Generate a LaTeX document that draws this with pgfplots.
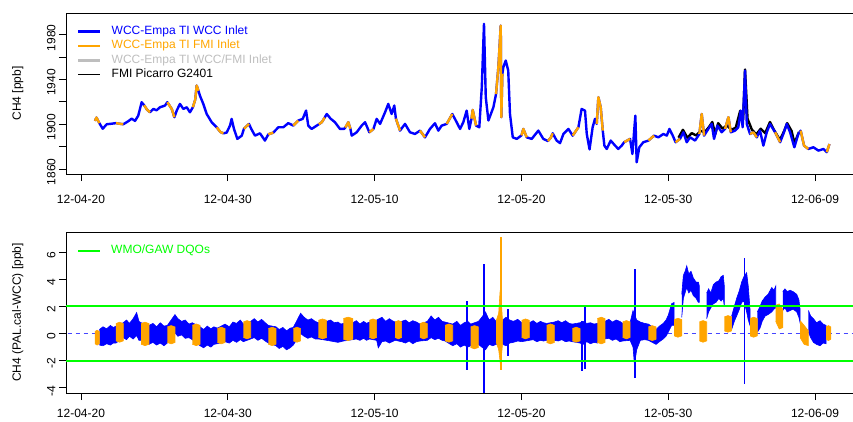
\documentclass[border=0pt]{standalone}
\usepackage{fontspec}
\setmainfont{Liberation Sans}
\usepackage{pgfplots}
\pgfplotsset{compat=1.18}
\usepackage{pgfplotstable}
\definecolor{Rorange}{RGB}{255,165,0}
\definecolor{Rgray}{RGB}{190,190,190}
\definecolor{Rgreen}{RGB}{0,255,0}
\definecolor{Rblue}{RGB}{0,0,255}
\definecolor{Rdash}{RGB}{70,70,255}

% top panel: CH4, days since 2012-04-20; o = value when on FMI inlet
\pgfplotstableread[row sep=\\]{
d v o\\
0.95 1903 1903\\
1.05 1906 1906\\
1.25 1901 1901\\
1.48 1896 nan\\
1.75 1900 nan\\
2.10 1900.5 nan\\
2.38 1901 1901\\
2.60 1900.5 1900.5\\
2.88 1900 1900\\
3.22 1902.7 nan\\
3.45 1905 nan\\
3.68 1903 nan\\
3.90 1907.7 nan\\
4.13 1919.7 nan\\
4.30 1917 1917\\
4.50 1913 1913\\
4.70 1910.7 1910.7\\
4.93 1913.7 nan\\
5.15 1912.5 nan\\
5.38 1915.2 nan\\
5.72 1916.7 nan\\
5.88 1919.7 1919.7\\
6.18 1913.7 1913.7\\
6.36 1906.3 1906.3\\
6.52 1912.2 nan\\
6.74 1918.2 nan\\
6.97 1913.7 nan\\
7.20 1915.2 nan\\
7.42 1910.7 nan\\
7.62 1915.2 1915.2\\
7.78 1922 1922\\
7.88 1934.6 1934.6\\
8.00 1930 1930\\
8.10 1925.6 nan\\
8.33 1918.2 nan\\
8.56 1909.2 nan\\
8.90 1901.8 nan\\
9.24 1897.3 1897.3\\
9.50 1893 1893\\
9.70 1891.9 1891.9\\
9.92 1892.5 nan\\
10.15 1898.8 nan\\
10.26 1904.8 nan\\
10.42 1895.8 nan\\
10.65 1886.9 nan\\
10.95 1889.8 nan\\
11.10 1896 1896\\
11.44 1900.3 1900.3\\
11.60 1895.8 nan\\
11.85 1889.8 nan\\
12.19 1891.9 nan\\
12.53 1885.4 nan\\
12.76 1891 1891\\
13.10 1892.5 1892.5\\
13.44 1897.3 nan\\
13.78 1897.3 nan\\
14.12 1901 nan\\
14.46 1898.8 1898.8\\
14.80 1903.3 1903.3\\
15.10 1904.8 nan\\
15.33 1912.2 nan\\
15.48 1898.8 nan\\
15.71 1895.8 nan\\
16.06 1898.8 nan\\
16.20 1900 1900\\
16.40 1901.8 1901.8\\
16.60 1906 1906\\
16.74 1909.2 nan\\
17.00 1905 nan\\
17.30 1901.8 nan\\
17.64 1895.8 nan\\
17.92 1895.8 nan\\
18.00 1897 1897\\
18.21 1901.8 1901.8\\
18.35 1896 1896\\
18.44 1889.8 nan\\
18.78 1892.8 nan\\
19.12 1898.8 nan\\
19.35 1901.8 nan\\
19.64 1892.8 1892.8\\
19.92 1895.8 1895.8\\
20.14 1904.8 nan\\
20.37 1900.3 nan\\
20.71 1910.7 nan\\
20.93 1918.2 nan\\
21.16 1909.2 nan\\
21.34 1916.7 nan\\
21.45 1905 1905\\
21.73 1894.3 1894.3\\
22.07 1900.3 nan\\
22.41 1892.8 nan\\
22.75 1891.3 nan\\
23.09 1894.3 1894.3\\
23.43 1888.3 1888.3\\
23.77 1895.8 nan\\
24.11 1900.9 nan\\
24.34 1894.3 nan\\
24.57 1898.8 nan\\
24.91 1900.3 1900.3\\
25.29 1909.2 1909.2\\
25.59 1901.8 nan\\
25.82 1895.8 nan\\
26.04 1901.8 nan\\
26.27 1912.2 nan\\
26.45 1895.8 nan\\
26.60 1905 1905\\
26.68 1912.8 1912.8\\
26.91 1898.8 1898.8\\
27.13 1897.3 nan\\
27.30 1933.2 nan\\
27.45 1989.9 nan\\
27.57 1924.2 nan\\
27.75 1903.3 nan\\
28.09 1915.2 nan\\
28.27 1927 1927\\
28.43 1951.1 1951.1\\
28.59 1988.3 1988.3\\
28.63 1906.3 1906.3\\
28.70 1945 1945\\
28.77 1951.1 nan\\
28.93 1957 nan\\
29.10 1948.1 nan\\
29.22 1909.2 nan\\
29.41 1888.3 nan\\
29.68 1886.9 nan\\
30.00 1890 1890\\
30.13 1895.8 1895.8\\
30.36 1888.3 1888.3\\
30.70 1886.9 nan\\
31.15 1894.3 nan\\
31.49 1886.9 nan\\
31.80 1885 1885\\
32.00 1888 1888\\
32.13 1891.9 1891.9\\
32.40 1885.4 nan\\
32.63 1883.1 nan\\
32.86 1891.3 nan\\
33.20 1895.8 nan\\
33.49 1889.8 1889.8\\
33.88 1897.3 1897.3\\
34.10 1913.7 nan\\
34.33 1912.2 nan\\
34.45 1891.3 nan\\
34.64 1877.5 nan\\
34.85 1897.3 nan\\
35.01 1904.8 nan\\
35.13 1900.3 1900.3\\
35.24 1924.2 1924.2\\
35.40 1915.2 1915.2\\
35.54 1894.3 1894.3\\
35.65 1880.9 nan\\
35.81 1877.9 nan\\
36.08 1885.4 nan\\
36.38 1880.9 nan\\
36.60 1877.9 nan\\
36.83 1880.9 nan\\
37.00 1884 1884\\
37.20 1885.4 1885.4\\
37.40 1886.9 1886.9\\
37.56 1873.4 nan\\
37.67 1892.8 nan\\
37.76 1907.7 nan\\
37.85 1866 nan\\
38.03 1879.4 nan\\
38.30 1883.9 nan\\
38.65 1885.4 1885.4\\
39.03 1889.8 1889.8\\
39.33 1888.3 nan\\
39.67 1891.3 nan\\
39.90 1889.8 nan\\
40.08 1895.8 nan\\
40.31 1889.8 nan\\
40.50 1883.9 1883.9\\
40.80 1886.9 1886.9\\
41.03 1892.8 nan\\
41.26 1883.9 nan\\
41.49 1888.3 nan\\
41.83 1885.4 nan\\
42.12 1891.3 1891.3\\
42.28 1909.2 1909.2\\
42.44 1889.8 1889.8\\
42.73 1895.8 nan\\
42.96 1900.3 nan\\
43.12 1886.9 nan\\
43.35 1898.8 nan\\
43.64 1892.8 nan\\
43.87 1895.8 1895.8\\
44.10 1906.3 1906.3\\
44.26 1892.8 1892.8\\
44.55 1894.3 nan\\
44.77 1897.3 nan\\
44.94 1912.2 nan\\
45.07 1897.3 nan\\
45.23 1948 nan\\
45.35 1900.3 nan\\
45.57 1891.3 1891.3\\
45.80 1892.8 1892.8\\
46.03 1888.3 1888.3\\
46.25 1894.3 nan\\
46.48 1880.9 nan\\
46.71 1892.8 nan\\
46.93 1900.3 nan\\
47.28 1892.8 1892.8\\
47.62 1883.9 1883.9\\
47.84 1891.3 nan\\
48.07 1900.3 nan\\
48.30 1892.8 nan\\
48.59 1879.4 nan\\
48.86 1891.3 nan\\
49.02 1894.3 1894.3\\
49.25 1880.9 1880.9\\
49.54 1877.9 1877.9\\
49.89 1879.4 nan\\
50.23 1876.4 nan\\
50.57 1877.9 nan\\
50.80 1875 1875\\
50.98 1882.3 1882.3\\
}\topdata

% FMI Picarro (visible where it differs from the blue series)
\pgfplotstableread[row sep=\\]{
d v\\
40.70 1888\\
41.00 1895\\
41.30 1888\\
41.60 1892\\
41.90 1890\\
42.20 1894\\
42.50 1893\\
42.80 1898\\
43.00 1902\\
43.20 1891\\
43.40 1901\\
43.70 1896\\
44.00 1899\\
44.30 1895\\
44.60 1897\\
44.90 1912\\
45.10 1904\\
45.23 1949\\
45.40 1905\\
45.70 1895\\
46.00 1891\\
46.30 1896\\
46.60 1892\\
46.93 1902\\
47.20 1895\\
47.60 1886\\
47.90 1894\\
48.10 1901\\
48.40 1894\\
48.60 1883\\
48.90 1893\\
}\blackdata

% bottom panel: WCC inlet band (upper edge forward, lower edge back), nan separates pieces
\pgfplotstableread[row sep=\\]{
d v\\
1.25 0.30\\ 1.5 0.5\\ 1.75 0.35\\ 2.0 0.6\\ 2.2 0.45\\ 2.38 0.55\\
2.88 0.8\\ 3.1 1.0\\ 3.3 0.75\\ 3.55 1.1\\ 3.79 1.55\\ 3.95 0.9\\ 4.09 0.8\\
4.63 0.6\\ 4.9 0.75\\ 5.15 0.5\\ 5.4 0.8\\ 5.65 0.55\\ 5.88 0.6\\
6.4 1.4\\ 6.6 1.1\\ 6.85 0.9\\ 7.1 1.0\\ 7.35 0.7\\ 7.58 0.8\\
8.11 0.5\\ 8.35 0.3\\ 8.6 0.55\\ 8.85 0.35\\ 9.05 0.5\\ 9.29 0.4\\
9.81 0.7\\ 10.1 0.5\\ 10.35 0.85\\ 10.6 0.75\\ 10.85 1.0\\ 11.06 0.7\\
11.56 0.9\\ 11.8 1.1\\ 12.05 0.85\\ 12.3 1.05\\ 12.55 0.8\\ 12.76 0.6\\
13.28 0.5\\ 13.5 0.3\\ 13.75 0.45\\ 14.0 0.2\\ 14.25 0.4\\ 14.46 0.45\\
14.96 1.5\\ 15.2 1.2\\ 15.45 1.0\\ 15.7 1.1\\ 15.95 0.9\\ 16.17 0.8\\
16.73 0.9\\ 17.0 1.0\\ 17.25 0.8\\ 17.5 0.85\\ 17.7 0.7\\ 17.87 0.75\\
18.51 0.8\\ 18.75 0.95\\ 19.0 0.7\\ 19.25 0.9\\ 19.45 0.75\\ 19.64 0.85\\
20.14 1.0\\ 20.5 1.2\\ 20.75 0.9\\ 21.0 1.1\\ 21.2 0.95\\ 21.39 0.85\\
21.84 0.9\\ 22.1 1.0\\ 22.35 0.8\\ 22.6 0.95\\ 22.85 0.85\\ 23.09 0.7\\
23.59 0.9\\ 23.85 1.3\\ 24.1 1.0\\ 24.35 1.2\\ 24.6 0.9\\ 24.8 0.85\\
25.32 0.7\\ 25.6 0.9\\ 25.85 0.6\\ 26.1 0.8\\ 26.35 0.9\\ 26.54 0.7\\
27.07 0.9\\ 27.3 1.2\\ 27.55 1.6\\ 27.8 1.0\\ 28.05 1.2\\ 28.27 0.9\\
28.72 1.0\\ 28.95 1.2\\ 29.2 1.0\\ 29.45 0.9\\ 29.75 1.05\\ 30.02 0.8\\
30.54 0.8\\ 30.8 0.95\\ 31.05 0.75\\ 31.3 0.9\\ 31.5 0.8\\ 31.72 0.75\\
32.24 0.85\\ 32.5 0.95\\ 32.75 0.8\\ 33.0 0.95\\ 33.25 0.75\\ 33.47 0.7\\
33.99 0.8\\ 34.2 0.9\\ 34.45 0.75\\ 34.7 0.8\\ 34.95 0.7\\ 35.17 0.75\\
35.69 0.9\\ 35.95 1.05\\ 36.2 0.85\\ 36.45 1.0\\ 36.7 0.9\\ 36.9 0.75\\
37.4 0.8\\ 37.6 1.7\\ 37.85 1.0\\ 38.1 0.85\\ 38.4 0.75\\ 38.65 0.7\\
39.17 0.3\\ 39.4 0.55\\ 39.66 0.75\\ 39.85 1.0\\ 40.0 1.35\\ 40.23 2.2\\ 40.40 2.3\\
40.40 0.6\\ 40.23 0.6\\ 40.0 0.1\\ 39.85 -0.2\\ 39.66 -0.4\\ 39.4 -0.6\\ 39.17 -0.8\\
38.65 -0.5\\ 38.4 -0.45\\ 38.1 -0.5\\ 37.85 -1.2\\ 37.7 -2.3\\ 37.6 -1.0\\ 37.4 -0.5\\
36.9 -0.55\\ 36.7 -0.6\\ 36.45 -0.4\\ 36.2 -0.5\\ 35.95 -0.35\\ 35.69 -0.4\\
35.17 -0.7\\ 34.95 -0.65\\ 34.7 -0.75\\ 34.45 -0.6\\ 34.2 -0.8\\ 33.99 -0.7\\
33.47 -0.6\\ 33.25 -0.55\\ 33.0 -0.6\\ 32.75 -0.45\\ 32.5 -0.55\\ 32.24 -0.5\\
31.72 -0.5\\ 31.5 -0.55\\ 31.3 -0.5\\ 31.05 -0.6\\ 30.8 -0.45\\ 30.54 -0.5\\
30.02 -0.6\\ 29.75 -0.55\\ 29.45 -0.65\\ 29.2 -0.7\\ 28.95 -0.9\\ 28.72 -0.8\\
28.27 -0.8\\ 28.05 -0.9\\ 27.8 -0.8\\ 27.55 -1.2\\ 27.3 -1.0\\ 27.07 -0.8\\
26.54 -0.9\\ 26.35 -1.0\\ 26.1 -0.85\\ 25.85 -1.0\\ 25.6 -0.75\\ 25.32 -0.9\\
24.8 -0.55\\ 24.6 -0.5\\ 24.35 -0.35\\ 24.1 -0.45\\ 23.85 -0.3\\ 23.59 -0.5\\
23.09 -0.55\\ 22.85 -0.6\\ 22.6 -0.75\\ 22.35 -0.55\\ 22.1 -0.7\\ 21.84 -0.6\\
21.39 -0.5\\ 21.2 -0.6\\ 21.0 -0.7\\ 20.75 -0.55\\ 20.5 -0.6\\ 20.25 -1.05\\ 20.14 -0.5\\
19.64 -0.4\\ 19.45 -0.5\\ 19.25 -0.35\\ 19.0 -0.5\\ 18.75 -0.4\\ 18.51 -0.45\\
17.87 -0.55\\ 17.7 -0.6\\ 17.5 -0.65\\ 17.25 -0.6\\ 17.0 -0.55\\ 16.73 -0.5\\
16.17 -0.4\\ 15.95 -0.4\\ 15.7 -0.25\\ 15.45 -0.35\\ 15.2 -0.2\\ 14.96 0.0\\
14.46 -0.85\\ 14.25 -1.05\\ 14.0 -1.2\\ 13.75 -0.95\\ 13.5 -1.1\\ 13.28 -0.9\\
12.76 -0.7\\ 12.55 -0.55\\ 12.3 -0.35\\ 12.05 -0.5\\ 11.8 -0.3\\ 11.56 -0.4\\
11.06 -0.6\\ 10.85 -0.45\\ 10.6 -0.65\\ 10.35 -0.5\\ 10.1 -0.7\\ 9.81 -0.6\\
9.29 -0.75\\ 9.05 -0.8\\ 8.85 -1.0\\ 8.6 -0.85\\ 8.35 -1.05\\ 8.11 -0.9\\
7.58 -0.45\\ 7.35 -0.3\\ 7.1 -0.35\\ 6.85 -0.1\\ 6.6 -0.2\\ 6.4 0.05\\
5.88 -0.7\\ 5.65 -0.9\\ 5.4 -0.7\\ 5.15 -0.85\\ 4.9 -0.65\\ 4.63 -0.8\\
4.09 -0.5\\ 3.95 -0.5\\ 3.79 -0.15\\ 3.55 -0.4\\ 3.3 -0.2\\ 3.1 -0.45\\ 2.88 -0.3\\
2.38 -0.7\\ 2.2 -0.7\\ 2.0 -0.85\\ 1.75 -0.75\\ 1.5 -0.9\\ 1.25 -0.85\\
nan nan\\
40.92 2.9\\ 41.03 4.3\\ 41.15 4.6\\ 41.26 5.0\\ 41.4 4.4\\ 41.55 4.6\\ 41.71 4.1\\ 41.9 3.8\\ 42.05 3.8\\ 42.12 3.5\\
42.12 2.3\\ 42.05 2.3\\ 41.9 2.6\\ 41.71 2.8\\ 41.55 3.2\\ 41.4 3.0\\ 41.26 3.4\\ 41.03 2.6\\ 40.92 1.2\\
nan nan\\
42.62 3.0\\ 42.75 3.3\\ 42.9 3.0\\ 43.07 3.6\\ 43.25 3.8\\ 43.45 3.9\\ 43.6 4.2\\ 43.75 4.3\\ 43.82 3.5\\
43.82 2.0\\ 43.75 2.6\\ 43.6 2.4\\ 43.45 2.6\\ 43.25 2.3\\ 43.07 2.2\\ 42.9 1.9\\ 42.75 1.6\\ 42.62 1.1\\
nan nan\\
44.32 1.3\\ 44.5 2.0\\ 44.66 2.6\\ 44.85 3.2\\ 45.0 3.8\\ 45.15 4.2\\ 45.34 4.5\\ 45.45 3.5\\ 45.57 1.8\\
45.57 0.6\\ 45.45 1.0\\ 45.34 1.6\\ 45.15 2.4\\ 45.0 2.3\\ 44.85 1.8\\ 44.66 1.3\\ 44.5 0.9\\ 44.32 0.3\\
nan nan\\
46.07 1.6\\ 46.25 2.0\\ 46.4 2.4\\ 46.6 2.7\\ 46.8 2.9\\ 47.05 3.4\\ 47.2 3.2\\ 47.32 3.5\\
47.32 1.9\\ 47.2 1.8\\ 47.05 1.6\\ 46.8 1.4\\ 46.6 1.3\\ 46.4 0.9\\ 46.25 0.4\\ 46.07 0.1\\
nan nan\\
47.8 3.1\\ 47.95 3.3\\ 48.1 3.1\\ 48.3 3.2\\ 48.5 3.1\\ 48.75 2.9\\ 48.9 2.5\\ 48.98 1.8\\
48.98 0.8\\ 48.9 1.2\\ 48.75 1.6\\ 48.5 1.8\\ 48.3 1.7\\ 48.1 1.6\\ 47.95 1.9\\ 47.8 1.7\\
nan nan\\
49.55 1.7\\ 49.7 1.3\\ 49.89 1.1\\ 50.1 0.8\\ 50.34 0.95\\ 50.55 0.7\\ 50.75 0.6\\
50.75 -0.75\\ 50.55 -0.7\\ 50.34 -0.9\\ 50.1 -0.8\\ 49.89 -0.65\\ 49.7 -0.3\\ 49.55 0.1\\
}\blueband

% bottom panel: FMI inlet blocks
\pgfplotstableread[row sep=\\]{
d v\\
0.95 0.15\\ 1.1 0.25\\ 1.25 0.15\\ 1.25 -0.75\\ 1.1 -0.85\\ 0.95 -0.75\\ nan nan\\
2.38 0.74\\ 2.63 0.84\\ 2.88 0.74\\ 2.88 -0.54\\ 2.63 -0.64\\ 2.38 -0.54\\ nan nan\\
4.09 0.74\\ 4.36 0.84\\ 4.63 0.74\\ 4.63 -0.79\\ 4.36 -0.89\\ 4.09 -0.79\\ nan nan\\
5.88 0.49\\ 6.14 0.59\\ 6.40 0.49\\ 6.40 -0.66\\ 6.14 -0.76\\ 5.88 -0.66\\ nan nan\\
7.58 0.61\\ 7.85 0.71\\ 8.11 0.61\\ 8.11 -0.79\\ 7.85 -0.89\\ 7.58 -0.79\\ nan nan\\
9.29 0.37\\ 9.55 0.47\\ 9.81 0.37\\ 9.81 -0.66\\ 9.55 -0.76\\ 9.29 -0.66\\ nan nan\\
11.06 0.86\\ 11.31 0.96\\ 11.56 0.86\\ 11.56 -0.29\\ 11.31 -0.39\\ 11.06 -0.29\\ nan nan\\
12.76 0.37\\ 13.02 0.47\\ 13.28 0.37\\ 13.28 -0.79\\ 13.02 -0.89\\ 12.76 -0.79\\ nan nan\\
14.46 0.37\\ 14.71 0.47\\ 14.96 0.37\\ 14.96 -0.54\\ 14.71 -0.64\\ 14.46 -0.54\\ nan nan\\
16.17 0.98\\ 16.45 1.08\\ 16.73 0.98\\ 16.73 -0.29\\ 16.45 -0.39\\ 16.17 -0.29\\ nan nan\\
17.87 1.11\\ 18.19 1.21\\ 18.51 1.11\\ 18.51 -0.42\\ 18.19 -0.52\\ 17.87 -0.42\\ nan nan\\
19.64 0.98\\ 19.89 1.08\\ 20.14 0.98\\ 20.14 -0.29\\ 19.89 -0.39\\ 19.64 -0.29\\ nan nan\\
21.39 0.86\\ 21.62 0.96\\ 21.84 0.86\\ 21.84 -0.29\\ 21.62 -0.39\\ 21.39 -0.29\\ nan nan\\
23.09 0.74\\ 23.34 0.84\\ 23.59 0.74\\ 23.59 -0.29\\ 23.34 -0.39\\ 23.09 -0.29\\ nan nan\\
24.8 0.61\\ 25.06 0.71\\ 25.32 0.61\\ 25.32 -0.54\\ 25.06 -0.64\\ 24.8 -0.54\\ nan nan\\
26.54 0.49\\ 26.8 0.59\\ 27.07 0.49\\ 27.07 -1.03\\ 26.8 -1.13\\ 26.54 -1.03\\ nan nan\\
28.27 0.9\\ 28.45 1.5\\ 28.55 3.2\\ 28.65 2.0\\ 28.72 0.8\\ 28.72 -0.7\\ 28.65 -1.5\\ 28.55 -2.1\\ 28.45 -1.2\\ 28.27 -0.6\\ nan nan\\
30.02 0.98\\ 30.28 1.08\\ 30.54 0.98\\ 30.54 -0.29\\ 30.28 -0.39\\ 30.02 -0.29\\ nan nan\\
31.72 0.61\\ 31.98 0.71\\ 32.24 0.61\\ 32.24 -0.66\\ 31.98 -0.76\\ 31.72 -0.66\\ nan nan\\
33.47 0.37\\ 33.73 0.47\\ 33.99 0.37\\ 33.99 -0.54\\ 33.73 -0.64\\ 33.47 -0.54\\ nan nan\\
35.17 1.11\\ 35.43 1.21\\ 35.69 1.11\\ 35.69 -0.66\\ 35.43 -0.76\\ 35.17 -0.66\\ nan nan\\
36.9 0.86\\ 37.15 0.96\\ 37.4 0.86\\ 37.4 -0.29\\ 37.15 -0.39\\ 36.9 -0.29\\ nan nan\\
38.65 0.49\\ 38.91 0.59\\ 39.17 0.49\\ 39.17 -0.42\\ 38.91 -0.52\\ 38.65 -0.42\\ nan nan\\
40.40 1.03\\ 40.66 1.13\\ 40.92 1.03\\ 40.92 -0.17\\ 40.66 -0.27\\ 40.40 -0.17\\ nan nan\\
42.12 0.86\\ 42.37 0.96\\ 42.62 0.86\\ 42.62 -0.54\\ 42.37 -0.64\\ 42.12 -0.54\\ nan nan\\
43.82 1.23\\ 44.07 1.33\\ 44.32 1.23\\ 44.32 0.2\\ 44.07 0.1\\ 43.82 0.2\\ nan nan\\
45.57 1.11\\ 45.82 1.21\\ 46.07 1.11\\ 46.07 -0.17\\ 45.82 -0.27\\ 45.57 -0.17\\ nan nan\\
47.32 2.09\\ 47.56 2.19\\ 47.8 1.8\\ 47.8 0.44\\ 47.56 0.34\\ 47.32 0.9\\ nan nan\\
48.98 0.96\\ 49.26 0.6\\ 49.55 0.2\\ 49.55 -0.89\\ 49.26 -0.8\\ 48.98 -0.3\\ nan nan\\
50.75 0.49\\ 50.91 0.59\\ 51.07 0.49\\ 51.07 -0.42\\ 50.91 -0.52\\ 50.75 -0.42\\
}\orangeband

% isolated spikes (vertical segments)
\pgfplotstableread[row sep=\\]{
d v\\
26.27 -2.66\\ 26.27 2.44\\ nan nan\\
27.43 -4.38\\ 27.43 5.15\\ nan nan\\
29.11 -1.63\\ 29.11 1.82\\ nan nan\\
34.10 -2.73\\ 34.10 0.90\\ nan nan\\
34.33 -2.61\\ 34.33 1.95\\ nan nan\\
37.76 -3.30\\ 37.76 4.78\\ nan nan\\
45.19 -3.72\\ 45.19 5.57\\
}\bluespikes

\pgfplotsset{Rax/.style={
  scale only axis, width=790pt, height=161pt,
  xmin=-1.022, xmax=52.79,
  axis line style={black, line width=0.8pt},
  tick align=outside, tick pos=left, major tick length=7pt,
  every tick/.style={black, line width=0.8pt},
  xtick={0,10,20,30,40,50},
  xticklabels={12-04-20,12-04-30,12-05-10,12-05-20,12-05-30,12-06-09},
  tick label style={font=\fontsize{12}{12}\selectfont},
  yticklabel style={rotate=90, anchor=south, xshift=-3pt},
  every axis y label/.style={at={(axis description cs:-0.061,0.5)}, rotate=90, anchor=center, font=\fontsize{12}{12}\selectfont},
  unbounded coords=jump,
  legend cell align=left,
  legend image code/.code={\draw[##1] (0pt,0pt) -- (22pt,0pt);},
  legend style={draw=none, fill=none, inner sep=0pt, row sep=0pt,
    at={(axis description cs:0.0139,0.93)}, anchor=north west,
    font=\fontsize{12}{12}\selectfont,
    nodes={inner sep=1pt, text height=9pt, text depth=3.4pt},
    /tikz/every odd column/.append style={column sep=9pt}},
}}

\begin{document}
\begin{tikzpicture}
\useasboundingbox (0pt,0pt) rectangle (853pt,421pt);

\begin{axis}[Rax, at={(66pt,247pt)}, anchor=south west,
  xticklabel style={yshift=-11pt},
  ymin=1855.5, ymax=1999.5,
  ytick={1860,1880,1900,1920,1940,1960,1980},
  yticklabels={1860,,1900,,1940,,1980},
  ylabel={CH4 [ppb]}]
\addlegendimage{Rblue, line width=2.5pt}
\addlegendentry{\textcolor{Rblue}{WCC-Empa TI WCC Inlet}}
\addlegendimage{Rorange, line width=2.5pt}
\addlegendentry{\textcolor{Rorange}{WCC-Empa TI FMI Inlet}}
\addlegendimage{Rgray, line width=2.5pt}
\addlegendentry{\textcolor{Rgray}{WCC-Empa TI WCC/FMI Inlet}}
\addlegendimage{black, line width=1pt}
\addlegendentry{FMI Picarro G2401}
\addplot[forget plot, black, line width=2.4pt, line join=round] table[x=d, y=v] {\blackdata};
\addplot[forget plot, Rblue, line width=2.4pt, line join=round] table[x=d, y=v] {\topdata};
\addplot[forget plot, Rorange, line width=2.4pt, line join=round] table[x=d, y=o] {\topdata};
\end{axis}

\begin{axis}[Rax, at={(66pt,28pt)}, anchor=south west,
  xticklabel style={yshift=-6pt},
  ymin=-4.39, ymax=7.5,
  ytick={-4,-2,0,2,4,6},
  yticklabels={-4,-2,0,2,4,6},
  ylabel={CH4 (PAL.cal-WCC) [ppb]}]
\addlegendimage{Rgreen, line width=2pt}
\addlegendentry{\textcolor{Rgreen}{WMO/GAW DQOs}}
\addplot[forget plot, Rdash, line width=1pt, dash pattern=on 4pt off 4pt] coordinates {(-2,0) (54,0)};
\addplot[forget plot, fill=Rblue, draw=Rblue, line width=0.6pt] table[x=d, y=v] {\blueband};
\addplot[forget plot, fill=Rorange, draw=Rorange, line width=0.6pt] table[x=d, y=v] {\orangeband};
\addplot[forget plot, Rblue, line width=1.8pt] table[x=d, y=v] {\bluespikes};
\addplot[forget plot, Rorange, line width=1.8pt] coordinates {(28.59,-2.66) (28.59,7.12)};
\addplot[forget plot, Rgreen, line width=2pt] coordinates {(-2,2) (54,2)};
\addplot[forget plot, Rgreen, line width=2pt] coordinates {(-2,-2) (54,-2)};
\end{axis}
\end{tikzpicture}
\end{document}
